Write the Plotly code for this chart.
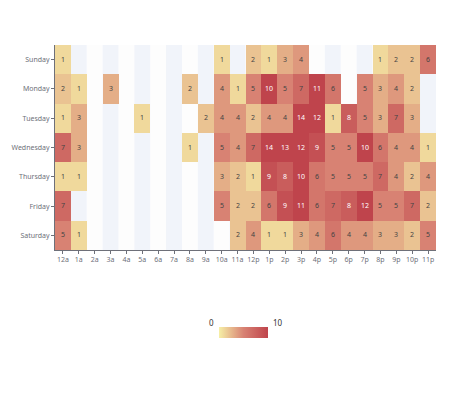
import plotly.graph_objects as go

hours = ['12a', '1a', '2a', '3a', '4a', '5a', '6a', '7a', '8a', '9a', '10a', '11a',
         '12p', '1p', '2p', '3p', '4p', '5p', '6p', '7p', '8p', '9p', '10p', '11p']
days = ['Saturday', 'Friday', 'Thursday', 'Wednesday', 'Tuesday', 'Monday', 'Sunday']

# rows bottom -> top, 0 means no data
saturday = [5, 1, 0, 0, 0, 0, 0, 0, 0, 0, 0, 2, 4, 1, 1, 3, 4, 6, 4, 4, 3, 3, 2, 5]
friday = [7, 0, 0, 0, 0, 0, 0, 0, 0, 0, 5, 2, 2, 6, 9, 11, 6, 7, 8, 12, 5, 5, 7, 2]
thursday = [1, 1, 0, 0, 0, 0, 0, 0, 0, 0, 3, 2, 1, 9, 8, 10, 6, 5, 5, 5, 7, 4, 2, 4]
wednesday = [7, 3, 0, 0, 0, 0, 0, 0, 1, 0, 5, 4, 7, 14, 13, 12, 9, 5, 5, 10, 6, 4, 4, 1]
tuesday = [1, 3, 0, 0, 0, 1, 0, 0, 0, 2, 4, 4, 2, 4, 4, 14, 12, 1, 8, 5, 3, 7, 3, 0]
monday = [2, 1, 0, 3, 0, 0, 0, 0, 2, 0, 4, 1, 5, 10, 5, 7, 11, 6, 0, 5, 3, 4, 2, 0]
sunday = [1, 0, 0, 0, 0, 0, 0, 0, 0, 0, 1, 0, 2, 1, 3, 4, 0, 0, 0, 0, 1, 2, 2, 6]

rows = [saturday, friday, thursday, wednesday, tuesday, monday, sunday]
z = [[v if v else None for v in r] for r in rows]

fig = go.Figure(go.Heatmap(
    z=z, x=hours, y=days,
    zmin=0, zmax=10,
    colorscale=[[0, '#f6efa6'], [0.5, '#d88273'], [1, '#bf444c']],
    texttemplate='%{z}', textfont=dict(size=7, family='Noto Sans'),
    hoverongaps=False,
    colorbar=dict(orientation='h', x=0.496, xanchor='center', y=-0.478, yanchor='bottom',
                  len=0.18, thickness=11, outlinewidth=0, showticklabels=False, ticks='')
))

# alternating column bands behind the cells
for i in range(len(hours)):
    fig.add_shape(type='rect', xref='x', yref='paper', x0=i - 0.5, x1=i + 0.5, y0=0, y1=1,
                  fillcolor='rgba(250,250,250,0.3)' if i % 2 == 0 else 'rgba(210,219,238,0.3)',
                  line_width=0, layer='below')

# colorbar end labels (above the bar)
for lab, xp in [('0', 0.41), ('10', 0.585)]:
    fig.add_annotation(text=lab, xref='paper', yref='paper', x=xp, y=-0.39,
                       showarrow=False, font=dict(size=8, color='#333'))

fig.update_layout(
    width=474, height=403,
    margin=dict(l=47, r=46, t=37, b=161),
    paper_bgcolor='white', plot_bgcolor='white',
    font=dict(family='Noto Sans', size=7, color='#6e7079'),
    xaxis=dict(showgrid=False, ticks='outside', ticklen=3, tickcolor='#6e7079', automargin=False,
               showline=True, linecolor='#6e7079', linewidth=1, zeroline=False),
    yaxis=dict(showgrid=False, ticks='outside', ticklen=3, tickcolor='#6e7079', automargin=False,
               showline=True, linecolor='#6e7079', linewidth=1, zeroline=False),
)

fig.write_html('out.html')
